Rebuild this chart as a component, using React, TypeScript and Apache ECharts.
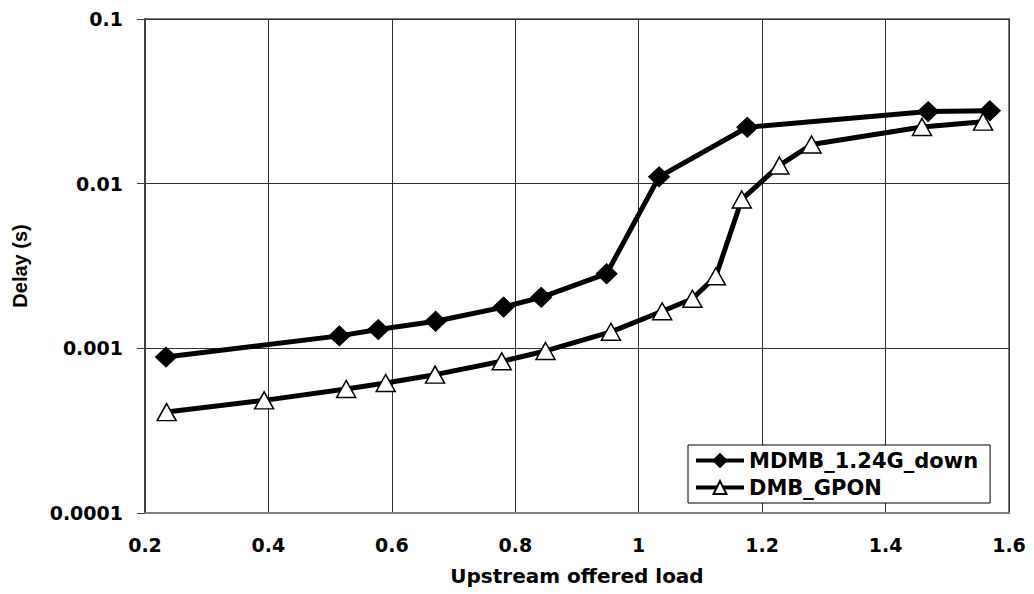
import React, { useEffect, useRef } from "react";
import * as echarts from "echarts";

const xTickLabels = ["0.2", "0.4", "0.6", "0.8", "1", "1.2", "1.4", "1.6"];
const yTickLabels = ["0.0001", "0.001", "0.01", "0.1"];

const mdmbName = "MDMB_1.24G_down";
const mdmbX = [0.234, 0.515, 0.578, 0.671, 0.781, 0.842, 0.948, 1.033, 1.176, 1.469, 1.569];
const mdmbY = [0.000885, 0.00119, 0.0013, 0.00146, 0.00178, 0.00204, 0.00284, 0.011, 0.022, 0.0274, 0.0277];

const gponName = "DMB_GPON";
const gponX = [0.235, 0.393, 0.526, 0.59, 0.67, 0.778, 0.849, 0.955, 1.038, 1.087, 1.125, 1.167, 1.228, 1.28, 1.459, 1.558];
const gponY = [0.00041, 0.000483, 0.000566, 0.000616, 0.000692, 0.000834, 0.000964, 0.00126, 0.00168, 0.002, 0.00274, 0.00802, 0.0129, 0.0173, 0.0221, 0.0238];

const FONT = "DejaVu Sans";

export default function App() {
  const ref = useRef<HTMLDivElement>(null);
  useEffect(() => {
    if (!ref.current) return;
    const chart = echarts.init(ref.current, null, { renderer: "svg" });
    const xMin = Number(xTickLabels[0]);
    const xMax = Number(xTickLabels[xTickLabels.length - 1]);
    chart.setOption({
      animation: false,
      backgroundColor: "#ffffff",
      grid: {
        left: 145,
        right: 25,
        top: 19,
        bottom: 81,
        show: true,
        borderColor: "#808080",
        borderWidth: 2,
        backgroundColor: "transparent",
      },
      legend: {
        orient: "vertical",
        left: 688,
        top: 445,
        padding: [5, 12, 5, 6],
        itemWidth: 48,
        itemHeight: 16,
        itemGap: 6,
        backgroundColor: "#ffffff",
        borderColor: "#000000",
        borderWidth: 1,
        lineStyle: { width: 4 },
        textStyle: { fontFamily: FONT, fontWeight: "bold", fontSize: 21, color: "#000" },
        data: [mdmbName, gponName],
      },
      xAxis: {
        type: "value",
        min: xMin,
        max: xMax,
        interval: 0.2,
        name: "Upstream offered load",
        nameLocation: "middle",
        nameGap: 53,
        nameTextStyle: { fontFamily: FONT, fontWeight: "bold", fontSize: 20, color: "#000" },
        axisLine: { show: true, lineStyle: { color: "#808080", width: 2 } },
        axisTick: { show: false },
        axisLabel: {
          margin: 22,
          fontFamily: FONT,
          fontWeight: "bold",
          fontSize: 19,
          color: "#000",
          formatter: (v: number) => {
            const s = Number(v.toFixed(1)).toString();
            return xTickLabels.includes(s) ? s : "";
          },
        },
        splitLine: { show: true, lineStyle: { color: "#333333", width: 1 } },
      },
      yAxis: {
        type: "log",
        logBase: 10,
        min: Number(yTickLabels[0]),
        max: Number(yTickLabels[yTickLabels.length - 1]),
        name: "Delay (s)",
        nameLocation: "middle",
        nameGap: 115,
        nameTextStyle: { fontFamily: "Liberation Sans", fontWeight: "bold", fontSize: 20, color: "#000" },
        axisLine: { show: true, lineStyle: { color: "#404040", width: 2 } },
        axisTick: { show: true, length: 8, inside: false, lineStyle: { color: "#404040", width: 1 } },
        minorTick: { show: false },
        axisLabel: {
          margin: 22,
          fontFamily: FONT,
          fontWeight: "bold",
          fontSize: 19,
          color: "#000",
          formatter: (v: number) => {
            const s = Number(v.toPrecision(6)).toString();
            return yTickLabels.includes(s) ? s : "";
          },
        },
        splitLine: { show: true, lineStyle: { color: "#333333", width: 1 } },
      },
      series: [
        {
          name: mdmbName,
          type: "line",
          data: mdmbX.map((x, i) => [x, mdmbY[i]]),
          symbol: "diamond",
          symbolSize: [21, 20],
          showAllSymbol: true,
          lineStyle: { color: "#000", width: 5 },
          itemStyle: { color: "#000", borderColor: "#000", borderWidth: 1 },
          z: 3,
        },
        {
          name: gponName,
          type: "line",
          data: gponX.map((x, i) => [x, gponY[i]]),
          symbol: "triangle",
          symbolSize: [19, 17],
          showAllSymbol: true,
          lineStyle: { color: "#000", width: 5 },
          itemStyle: { color: "#fff", borderColor: "#000", borderWidth: 1.5 },
          z: 4,
        },
      ],
    });
    return () => chart.dispose();
  }, []);
  return (
    <div
      ref={ref}
      style={{ position: "fixed", left: 0, top: 0, width: 1034, height: 594, background: "#fff" }}
    />
  );
}
